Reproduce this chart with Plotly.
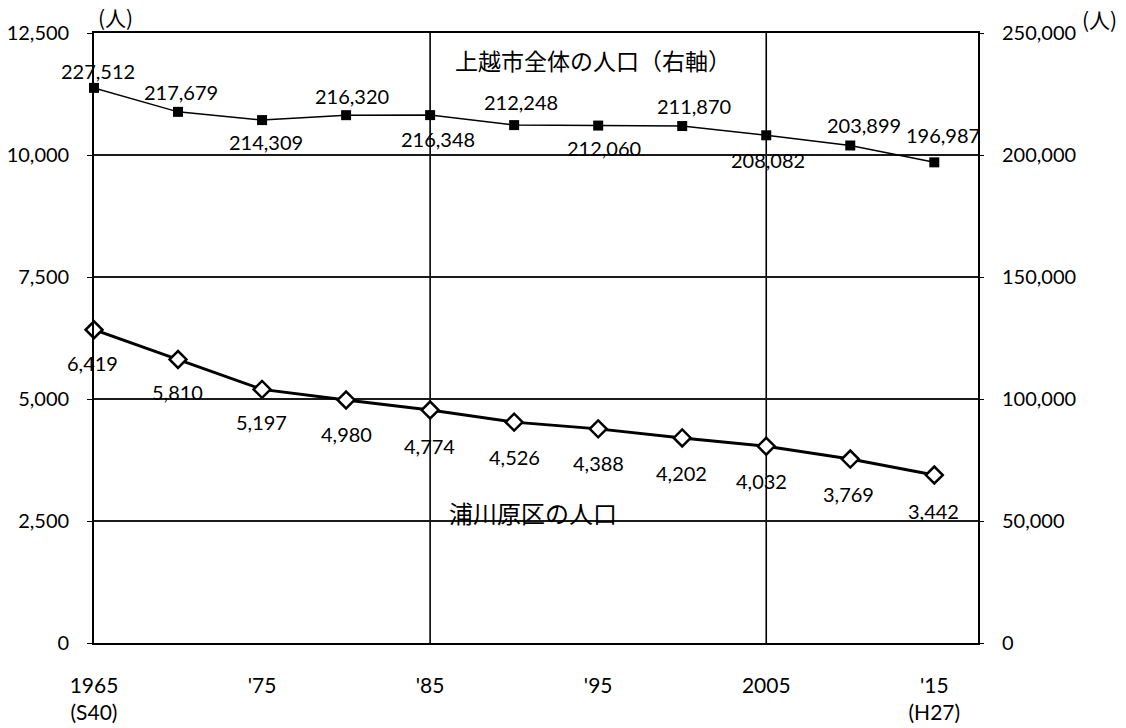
import plotly.graph_objects as go

# Census years and population figures
years = [1965, 1970, 1975, 1980, 1985, 1990, 1995, 2000, 2005, 2010, 2015]
uragawara = [6419, 5810, 5197, 4980, 4774, 4526, 4388, 4202, 4032, 3769, 3442]
joetsu = [227512, 217679, 214309, 216320, 216348, 212248, 212060, 211870, 208082, 203899, 196987]

x_tick_vals = [1965, 1975, 1985, 1995, 2005, 2015]
x_tick_text = ["1965<br>(S40)", "'75", "'85", "'95", "2005", "'15<br>(H27)"]
v_grid_years = [1985, 2005]

left_ticks = [0, 2500, 5000, 7500, 10000, 12500]
right_ticks = [0, 50000, 100000, 150000, 200000, 250000]

# label offsets in pixels (dx right, dy up)
joetsu_dx = [4, 3, 4, 6, 8, 7, 6, 12, 2, 14, 9]
joetsu_dy = [17, 20, -22, 19, -24, 23, -22, 20, -25, 20, 27]
ura_dx = [-2, -1, -1, 0, -1, 0, 0, -1, -5, -2, -1]
ura_dy = [-33, -33, -33, -34, -36, -35, -34, -35, -35, -35, -36]

NUM_FONT = "Lato, 'Noto Sans', sans-serif"
JP_FONT = "'Noto Sans CJK JP', sans-serif"

fig = go.Figure()

fig.add_trace(go.Scatter(
    x=years, y=uragawara, mode="lines+markers", name="浦川原区の人口",
    line=dict(color="black", width=3),
    marker=dict(symbol="diamond", size=13, color="white",
                line=dict(color="black", width=2.5)),
    cliponaxis=False, yaxis="y",
))
fig.add_trace(go.Scatter(
    x=years, y=joetsu, mode="lines+markers", name="上越市全体の人口",
    line=dict(color="black", width=1.5),
    marker=dict(symbol="square", size=10, color="black"),
    cliponaxis=False, yaxis="y2",
))

annotations = []
for x, v, dx, dy in zip(years, joetsu, joetsu_dx, joetsu_dy):
    annotations.append(dict(x=x, y=v, xref="x", yref="y2", text=f"{v:,}",
                            showarrow=False, xshift=dx, yshift=dy,
                            xanchor="center", yanchor="middle",
                            font=dict(family=NUM_FONT, size=20, color="black")))
for x, v, dx, dy in zip(years, uragawara, ura_dx, ura_dy):
    annotations.append(dict(x=x, y=v, xref="x", yref="y", text=f"{v:,}",
                            showarrow=False, xshift=dx, yshift=dy,
                            xanchor="center", yanchor="middle",
                            font=dict(family=NUM_FONT, size=20, color="black")))

# text placed by pixel position within the figure
W, H = 1126, 728
L, R, T, B = 94, 148, 33, 85
pw, ph = W - L - R, H - T - B

def px_note(px, py, text, size):
    return dict(x=(px - L) / pw, y=1 - (py - T) / ph, xref="paper", yref="paper",
                text=text, showarrow=False, xanchor="center", yanchor="middle",
                font=dict(family=JP_FONT, size=size, color="black"))

annotations += [
    px_note(593, 60, "上越市全体の人口（右軸）", 23),
    px_note(533, 512, "浦川原区の人口", 24),
    px_note(115, 17, "(人)", 21),
    px_note(1099, 19, "(人)", 21),
]

for yr in v_grid_years:
    fig.add_vline(x=yr, line=dict(color="black", width=1.6), layer="below")

fig.update_layout(
    width=W, height=H,
    margin=dict(l=L, r=R, t=T, b=B, autoexpand=False),
    paper_bgcolor="white", plot_bgcolor="white",
    showlegend=False,
    annotations=annotations,
    xaxis=dict(range=[1965, 2017.6], tickmode="array", tickvals=x_tick_vals,
               ticktext=x_tick_text, showgrid=False, zeroline=False,
               showline=True, linecolor="black", linewidth=1.6, mirror=True,
               ticks="", ticklabelstandoff=23, automargin=False,
               tickfont=dict(family=NUM_FONT, size=21, color="black")),
    yaxis=dict(range=[0, 12500], tickmode="array", tickvals=left_ticks,
               tickformat=",", showgrid=True, gridcolor="#1a1a1a", gridwidth=1.5,
               zeroline=False, showline=True, linecolor="black", linewidth=1.6,
               mirror=True, ticks="outside", ticklen=5, tickcolor="black",
               ticklabelstandoff=14, automargin=False,
               tickfont=dict(family=NUM_FONT, size=20, color="black")),
    yaxis2=dict(range=[0, 250000], tickmode="array", tickvals=right_ticks,
                tickformat=",", overlaying="y", side="right", showgrid=False,
                zeroline=False, showline=False, ticks="outside", ticklen=5,
                tickcolor="black", ticklabelstandoff=14, automargin=False,
                tickfont=dict(family=NUM_FONT, size=20, color="black")),
)

fig.write_html("out.html")
